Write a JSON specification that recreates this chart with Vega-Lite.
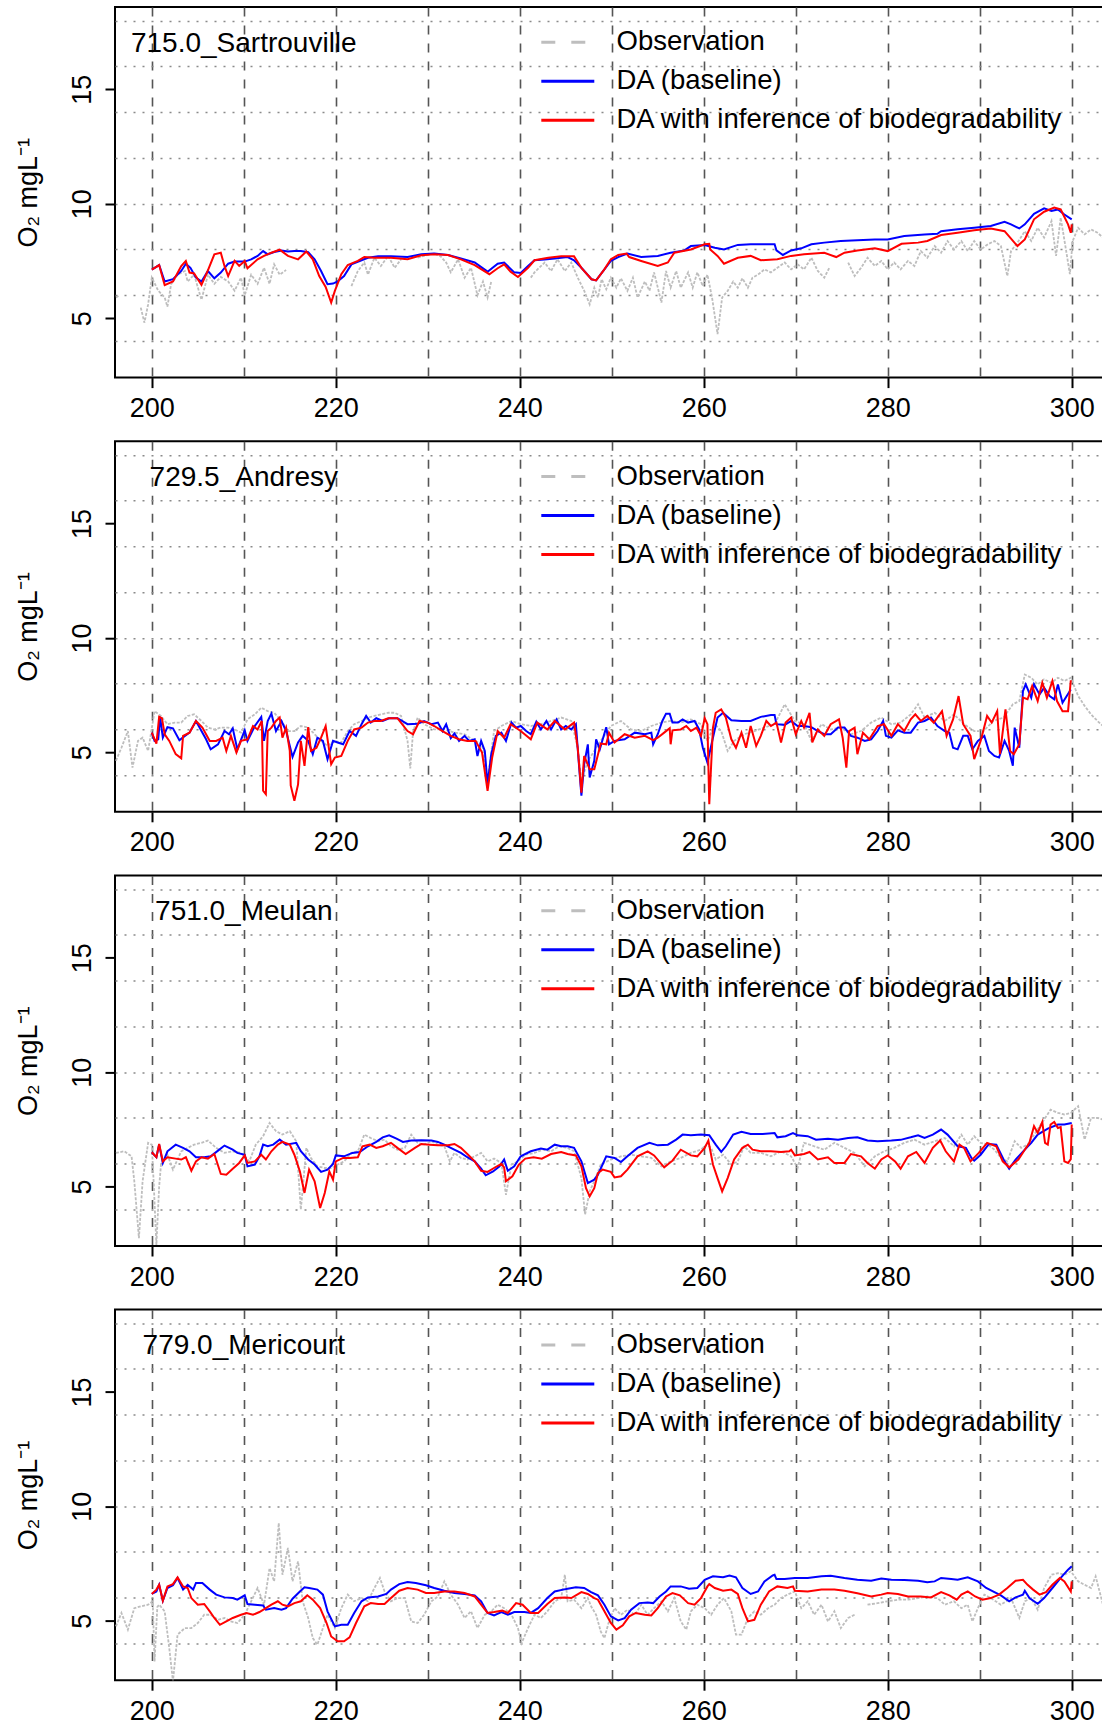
{
"$schema": "https://vega.github.io/schema/vega-lite/v6.json",
"padding": {"left": 13, "top": 6, "right": 0, "bottom": 0},
"autosize": {"type": "pad"},
"bounds": "flush",
"spacing": 63.2,
"config": {
 "font": "Liberation Sans",
 "view": {"stroke": "#000000", "strokeWidth": 2},
 "axis": {"labelFont": "Liberation Sans", "labelFontSize": 27, "labelColor": "#000000", "titleFont": "Liberation Sans", "titleFontSize": 27, "titleFontWeight": "normal", "titleColor": "#000000", "tickColor": "#000000", "tickWidth": 2, "tickSize": 10, "domain": false},
 "legend": {"orient": "none", "legendX": 424.8, "legendY": 16.1, "direction": "vertical", "title": null, "symbolType": "stroke", "symbolSize": 2809, "symbolStrokeWidth": 3, "labelFontSize": 27.5, "labelFont": "Liberation Sans", "labelColor": "#000000", "labelOffset": 20.7, "rowPadding": 0, "clipHeight": 38.5, "padding": 0, "labelLimit": 0}
},
"resolve": {"scale": {"color": "independent", "x": "independent", "y": "independent"}, "legend": {"color": "independent"}},
"datasets": {
"p1o": [{"d":196.1,"v":5.9,"g":1},{"d":196.5,"v":6.0,"g":1},
{"d":198.8,"v":5.46,"g":2},{"d":199.2,"v":4.8,"g":2},{"d":199.6,"v":5.6,"g":2},{"d":200,"v":6.77,"g":2},{"d":200.7,"v":6.2,"g":2},{"d":201.4,"v":5.9,"g":2},{"d":201.7,"v":5.5,"g":2},{"d":202.1,"v":6.48,"g":2},{"d":202.8,"v":6.9,"g":2},{"d":203.6,"v":7.06,"g":2},{"d":203.9,"v":6.6,"g":2},{"d":204.6,"v":6.9,"g":2},{"d":205.4,"v":5.8,"g":2},{"d":206.1,"v":6.9,"g":2},{"d":206.8,"v":6.5,"g":2},{"d":207.5,"v":6.8,"g":2},{"d":208.3,"v":6.6,"g":2},{"d":209,"v":6.2,"g":2},{"d":209.7,"v":6.77,"g":2},{"d":210.1,"v":6.0,"g":2},{"d":210.8,"v":6.9,"g":2},{"d":211.5,"v":6.5,"g":2},{"d":212.2,"v":7.2,"g":2},{"d":212.8,"v":6.5,"g":2},{"d":213.3,"v":7.35,"g":2},{"d":213.9,"v":6.9,"g":2},{"d":214.6,"v":7.1,"g":2},
{"d":221.7,"v":6.4,"g":3},{"d":222.4,"v":7.06,"g":3},{"d":223.1,"v":7.43,"g":3},{"d":223.5,"v":6.9,"g":3},{"d":224.2,"v":7.64,"g":3},{"d":224.9,"v":7.28,"g":3},{"d":225.7,"v":7.72,"g":3},{"d":226.4,"v":7.2,"g":3},{"d":227.1,"v":7.57,"g":3},
{"d":228.9,"v":7.64,"g":4},{"d":229.6,"v":7.72,"g":4},{"d":230.7,"v":7.82,"g":4},{"d":231.4,"v":7.7,"g":4},{"d":232,"v":7.43,"g":4},{"d":232.5,"v":7.0,"g":4},{"d":233.3,"v":7.57,"g":4},{"d":234,"v":6.77,"g":4},{"d":234.7,"v":7.2,"g":4},{"d":235.4,"v":6.0,"g":4},{"d":236,"v":6.6,"g":4},{"d":236.5,"v":5.9,"g":4},{"d":236.9,"v":6.6,"g":4},
{"d":241.2,"v":6.77,"g":5},{"d":241.6,"v":7.0,"g":5},{"d":242.7,"v":7.43,"g":5},{"d":243.4,"v":7.06,"g":5},{"d":244.1,"v":7.57,"g":5},{"d":244.9,"v":7.06,"g":5},{"d":245.6,"v":7.43,"g":5},{"d":246.3,"v":6.77,"g":5},{"d":247,"v":6.2,"g":5},{"d":247.6,"v":5.6,"g":5},{"d":248.1,"v":6.33,"g":5},{"d":248.5,"v":5.9,"g":5},{"d":248.9,"v":6.7,"g":5},{"d":249.4,"v":6.26,"g":5},{"d":249.9,"v":6.77,"g":5},{"d":250.5,"v":6.33,"g":5},{"d":251,"v":6.74,"g":5},{"d":251.7,"v":6.19,"g":5},{"d":252.3,"v":6.77,"g":5},{"d":252.8,"v":5.9,"g":5},{"d":253.6,"v":6.6,"g":5},{"d":254.1,"v":6.2,"g":5},{"d":254.6,"v":7.0,"g":5},{"d":255.4,"v":5.68,"g":5},{"d":255.9,"v":7.06,"g":5},{"d":256.4,"v":6.33,"g":5},{"d":257,"v":7.06,"g":5},{"d":257.5,"v":6.33,"g":5},{"d":258.3,"v":7.0,"g":5},{"d":258.8,"v":6.33,"g":5},{"d":259.3,"v":7.0,"g":5},{"d":259.9,"v":6.4,"g":5},{"d":260.4,"v":6.9,"g":5},{"d":260.9,"v":5.9,"g":5},{"d":261.5,"v":4.3,"g":5},{"d":262,"v":5.9,"g":5},{"d":262.6,"v":6.19,"g":5},{"d":263.2,"v":6.6,"g":5},{"d":263.7,"v":6.33,"g":5},{"d":264.2,"v":6.74,"g":5},{"d":264.8,"v":6.33,"g":5},{"d":265.3,"v":6.77,"g":5},{"d":265.9,"v":6.9,"g":5},{"d":266.6,"v":7.13,"g":5},{"d":267.3,"v":7.0,"g":5},{"d":268,"v":7.2,"g":5},{"d":268.8,"v":7.43,"g":5},{"d":269.5,"v":7.13,"g":5},{"d":270.2,"v":7.35,"g":5},{"d":270.9,"v":7.13,"g":5},{"d":271.7,"v":7.64,"g":5},{"d":272.4,"v":7.06,"g":5},{"d":273.1,"v":6.77,"g":5},{"d":273.7,"v":7.24,"g":5},
{"d":275.7,"v":7.43,"g":6},{"d":276.4,"v":6.84,"g":6},{"d":277.1,"v":7.2,"g":6},{"d":277.8,"v":7.64,"g":6},{"d":278.6,"v":7.28,"g":6},{"d":279.3,"v":7.5,"g":6},{"d":280,"v":7.13,"g":6},{"d":280.7,"v":7.43,"g":6},{"d":281.4,"v":7.13,"g":6},{"d":282.2,"v":7.5,"g":6},{"d":282.9,"v":7.28,"g":6},{"d":283.6,"v":7.93,"g":6},{"d":284.3,"v":7.64,"g":6},{"d":285.1,"v":8.15,"g":6},{"d":285.8,"v":7.86,"g":6},{"d":286.5,"v":8.37,"g":6},{"d":287.2,"v":8.0,"g":6},{"d":288,"v":8.37,"g":6},{"d":288.7,"v":7.93,"g":6},{"d":289.4,"v":8.37,"g":6},{"d":290.1,"v":8.0,"g":6},{"d":290.9,"v":8.23,"g":6},{"d":291.6,"v":8.37,"g":6},{"d":292.3,"v":8.15,"g":6},{"d":293,"v":6.84,"g":6},{"d":293.4,"v":7.93,"g":6},{"d":294.1,"v":8.3,"g":6},{"d":294.9,"v":8.8,"g":6},{"d":295.6,"v":8.37,"g":6},{"d":296.3,"v":8.95,"g":6},{"d":297,"v":8.52,"g":6},{"d":297.8,"v":9.24,"g":6},{"d":298.3,"v":7.72,"g":6},{"d":298.8,"v":9.39,"g":6},{"d":299.4,"v":7.93,"g":6},{"d":299.8,"v":6.92,"g":6},{"d":300.1,"v":8.37,"g":6},{"d":300.7,"v":8.95,"g":6},{"d":301.4,"v":8.66,"g":6},{"d":302.1,"v":8.88,"g":6},{"d":302.8,"v":8.73,"g":6},{"d":303.4,"v":8.52,"g":6}],
"p1b": [{"d":200,"v":7.12},{"d":200.8,"v":7.32},{"d":201.4,"v":6.6},{"d":202.3,"v":6.7},{"d":203.2,"v":7.06},{"d":203.7,"v":7.38},{"d":204.2,"v":7.2},{"d":204.8,"v":6.77},{"d":205.4,"v":6.6},{"d":206.1,"v":7.06},{"d":206.8,"v":6.74},{"d":207.5,"v":6.99},{"d":208.3,"v":7.38},{"d":209,"v":7.47},{"d":210.1,"v":7.47},{"d":210.8,"v":7.57},{"d":211.5,"v":7.72},{"d":212.1,"v":7.93},{"d":212.6,"v":7.79},{"d":213.3,"v":7.89},{"d":214.1,"v":7.96},{"d":214.8,"v":7.91},{"d":215.5,"v":7.93},{"d":216.2,"v":7.93},{"d":217,"v":7.88},{"d":217.7,"v":7.57},{"d":218.4,"v":7.06},{"d":219.1,"v":6.48},{"d":219.7,"v":6.51},{"d":220.2,"v":6.6},{"d":220.9,"v":6.84},{"d":221.7,"v":7.35},{"d":222.8,"v":7.53},{"d":223.5,"v":7.64},{"d":224.6,"v":7.7},{"d":226,"v":7.7},{"d":227.8,"v":7.67},{"d":229.3,"v":7.79},{"d":230.7,"v":7.83},{"d":232.2,"v":7.76},{"d":233.6,"v":7.61},{"d":235.1,"v":7.43},{"d":236.5,"v":7.03},{"d":237.6,"v":7.38},{"d":238.3,"v":7.43},{"d":239.4,"v":7.0},{"d":240.1,"v":6.97},{"d":240.9,"v":7.28},{"d":241.6,"v":7.53},{"d":242.7,"v":7.56},{"d":243.8,"v":7.61},{"d":245.2,"v":7.67},{"d":245.9,"v":7.53},{"d":246.7,"v":7.2},{"d":247.8,"v":6.7},{"d":248.3,"v":6.65},{"d":249.2,"v":7.13},{"d":249.9,"v":7.5},{"d":250.7,"v":7.67},{"d":251.7,"v":7.82},{"d":253.2,"v":7.67},{"d":255,"v":7.72},{"d":256.4,"v":7.86},{"d":257.9,"v":7.96},{"d":258.6,"v":8.15},{"d":260.1,"v":8.2},{"d":261.2,"v":8.08},{"d":262.2,"v":8.0},{"d":263.7,"v":8.2},{"d":265.1,"v":8.23},{"d":266.6,"v":8.23},{"d":267.7,"v":8.23},{"d":267.9,"v":7.96},{"d":268.6,"v":7.76},{"d":269.5,"v":7.96},{"d":270.6,"v":8.05},{"d":271.7,"v":8.23},{"d":273.1,"v":8.3},{"d":274.9,"v":8.37},{"d":276.7,"v":8.4},{"d":278.6,"v":8.44},{"d":280,"v":8.44},{"d":281.8,"v":8.59},{"d":284,"v":8.66},{"d":285.4,"v":8.69},{"d":285.8,"v":8.8},{"d":287.6,"v":8.88},{"d":289.4,"v":8.95},{"d":291.2,"v":9.03},{"d":292.7,"v":9.21},{"d":293.4,"v":9.1},{"d":294.3,"v":8.92},{"d":294.9,"v":9.1},{"d":295.9,"v":9.56},{"d":297,"v":9.8},{"d":297.8,"v":9.68},{"d":298.5,"v":9.75},{"d":299.2,"v":9.53},{"d":300,"v":9.32}],
"p1r": [{"d":200,"v":7.12},{"d":200.8,"v":7.32},{"d":201.4,"v":6.44},{"d":202.3,"v":6.6},{"d":203.2,"v":7.28},{"d":203.7,"v":7.5},{"d":204.1,"v":6.99},{"d":204.6,"v":6.95},{"d":205.4,"v":6.45},{"d":206.1,"v":7.09},{"d":206.8,"v":7.79},{"d":207.5,"v":7.86},{"d":207.9,"v":7.28},{"d":208.3,"v":6.84},{"d":209,"v":7.5},{"d":209.5,"v":7.28},{"d":210.1,"v":7.5},{"d":210.4,"v":7.18},{"d":211.5,"v":7.57},{"d":212.2,"v":7.72},{"d":213,"v":7.86},{"d":213.9,"v":7.99},{"d":214.8,"v":7.72},{"d":215.9,"v":7.57},{"d":216.8,"v":7.91},{"d":217.5,"v":7.57},{"d":218.2,"v":6.84},{"d":218.9,"v":6.36},{"d":219.5,"v":5.68},{"d":219.9,"v":6.19},{"d":220.6,"v":6.92},{"d":221.3,"v":7.32},{"d":222.4,"v":7.5},{"d":223.1,"v":7.67},{"d":224.2,"v":7.64},{"d":226,"v":7.64},{"d":227.8,"v":7.57},{"d":229.3,"v":7.75},{"d":230.7,"v":7.79},{"d":232.2,"v":7.76},{"d":233.6,"v":7.57},{"d":235.1,"v":7.32},{"d":236.7,"v":6.92},{"d":237.6,"v":7.18},{"d":238.3,"v":7.35},{"d":239,"v":7.03},{"d":239.8,"v":6.8},{"d":240.9,"v":7.2},{"d":241.6,"v":7.53},{"d":243.1,"v":7.64},{"d":244.5,"v":7.7},{"d":245.9,"v":7.7},{"d":246.7,"v":7.2},{"d":247.8,"v":6.7},{"d":248.3,"v":6.65},{"d":249.2,"v":7.13},{"d":249.9,"v":7.57},{"d":250.7,"v":7.76},{"d":251.6,"v":7.82},{"d":251.9,"v":7.67},{"d":253.2,"v":7.5},{"d":255,"v":7.28},{"d":256.1,"v":7.43},{"d":256.8,"v":7.86},{"d":258.6,"v":8.0},{"d":260.1,"v":8.23},{"d":260.6,"v":8.25},{"d":260.7,"v":8.0},{"d":261.5,"v":7.72},{"d":262.2,"v":7.38},{"d":263.7,"v":7.64},{"d":265.1,"v":7.72},{"d":266.2,"v":7.53},{"d":268,"v":7.57},{"d":269.5,"v":7.72},{"d":270.9,"v":7.79},{"d":273.1,"v":7.86},{"d":274.4,"v":7.67},{"d":275.3,"v":7.86},{"d":276.7,"v":7.96},{"d":278.6,"v":8.05},{"d":280,"v":7.93},{"d":281.5,"v":8.25},{"d":283.3,"v":8.3},{"d":284.3,"v":8.37},{"d":285.8,"v":8.63},{"d":287.6,"v":8.73},{"d":289.4,"v":8.84},{"d":291.2,"v":8.92},{"d":292.7,"v":8.8},{"d":294.1,"v":8.15},{"d":294.9,"v":8.44},{"d":295.9,"v":9.32},{"d":297,"v":9.65},{"d":298.1,"v":9.83},{"d":298.8,"v":9.75},{"d":299.6,"v":9.1},{"d":299.9,"v":8.73},{"d":300,"v":9.1}],
"p2o": [{"d":196.1,"v":4.63},{"d":196.7,"v":5.2},{"d":197.4,"v":5.93},{"d":197.9,"v":4.33},{"d":198.5,"v":5.5},{"d":199,"v":5.64},{"d":199.6,"v":5.06},{"d":200.3,"v":6.8},{"d":201,"v":6.59},{"d":201.7,"v":6.23},{"d":202.5,"v":6.3},{"d":203.2,"v":6.3},{"d":203.9,"v":6.59},{"d":204.6,"v":6.66},{"d":205.4,"v":6.37},{"d":206.1,"v":6.08},{"d":206.8,"v":6.0},{"d":207.5,"v":6.08},{"d":208.3,"v":6.08},{"d":209,"v":6.0},{"d":209.7,"v":5.86},{"d":210.4,"v":6.44},{"d":211.2,"v":6.66},{"d":211.9,"v":6.95},{"d":212.6,"v":6.8},{"d":213.3,"v":6.73},{"d":214.1,"v":6.37},{"d":214.8,"v":5.93},{"d":215.5,"v":5.93},{"d":216.2,"v":6.15},{"d":217,"v":6.08},{"d":217.7,"v":5.79},{"d":218.4,"v":5.5},{"d":219.1,"v":5.28},{"d":219.9,"v":5.5},{"d":220.6,"v":5.43},{"d":221.3,"v":5.93},{"d":222,"v":6.23},{"d":222.8,"v":6.37},{"d":223.5,"v":6.52},{"d":224.2,"v":6.59},{"d":224.9,"v":6.66},{"d":225.7,"v":6.73},{"d":226.4,"v":6.73},{"d":227.1,"v":6.59},{"d":227.8,"v":5.5},{"d":228.1,"v":4.3},{"d":228.4,"v":5.9},{"d":228.9,"v":6.52},{"d":229.6,"v":6.23},{"d":230.7,"v":6.0},{"d":231.8,"v":6.0},{"d":232.9,"v":5.86},{"d":234,"v":5.79},{"d":235.1,"v":5.5},{"d":235.9,"v":5.35},{"d":236.5,"v":3.75},{"d":237.2,"v":5.93},{"d":238,"v":6.15},{"d":239.1,"v":6.37},{"d":240.1,"v":6.23},{"d":241.2,"v":6.15},{"d":242.3,"v":6.23},{"d":243.4,"v":6.37},{"d":244.5,"v":6.52},{"d":245.6,"v":6.37},{"d":246.3,"v":5.2},{"d":246.7,"v":3.75},{"d":247.4,"v":4.63},{"d":248.1,"v":5.06},{"d":248.8,"v":5.5},{"d":249.9,"v":6.15},{"d":251,"v":6.37},{"d":252.1,"v":6.0},{"d":253.2,"v":5.93},{"d":254.3,"v":6.15},{"d":255.4,"v":6.3},{"d":256.4,"v":6.37},{"d":257.5,"v":6.3},{"d":258.6,"v":6.44},{"d":259.7,"v":6.23},{"d":260.4,"v":5.5},{"d":261.2,"v":6.23},{"d":261.9,"v":5.93},{"d":262.6,"v":5.06},{"d":263.3,"v":5.5},{"d":264.4,"v":5.79},{"d":265.5,"v":5.93},{"d":266.6,"v":6.08},{"d":267.7,"v":6.23},{"d":268.8,"v":7.1},{"d":269.9,"v":6.37},{"d":270.9,"v":6.23},{"d":271.7,"v":5.5},{"d":272.8,"v":6.23},{"d":273.8,"v":6.0},{"d":274.9,"v":6.08},{"d":276,"v":5.79},{"d":277.1,"v":5.93},{"d":278.2,"v":6.3},{"d":279.3,"v":6.52},{"d":280.4,"v":6.23},{"d":281.4,"v":6.3},{"d":282.5,"v":6.66},{"d":283.3,"v":7.1},{"d":284,"v":6.52},{"d":285.1,"v":6.73},{"d":286.2,"v":6.37},{"d":287.2,"v":6.66},{"d":288.3,"v":6.23},{"d":289.4,"v":5.93},{"d":290.4,"v":5.93},{"d":291.5,"v":6.37},{"d":292.6,"v":6.52},{"d":293.6,"v":7.1},{"d":294.3,"v":7.24},{"d":294.9,"v":8.4},{"d":295.6,"v":8.26},{"d":296.3,"v":7.97},{"d":297,"v":8.19},{"d":297.8,"v":8.04},{"d":298.5,"v":8.26},{"d":299.2,"v":8.12},{"d":299.9,"v":8.26},{"d":300.7,"v":7.46},{"d":301.4,"v":7.03},{"d":302.1,"v":6.66},{"d":302.8,"v":6.37},{"d":303.4,"v":6.15}],
"p2b": [{"d":200,"v":5.86},{"d":200.3,"v":5.5},{"d":200.7,"v":5.57},{"d":200.9,"v":6.55},{"d":201.2,"v":5.64},{"d":201.7,"v":6.1},{"d":202.3,"v":6.05},{"d":203,"v":5.53},{"d":203.6,"v":5.72},{"d":204.1,"v":5.86},{"d":204.8,"v":6.37},{"d":205.4,"v":5.93},{"d":205.9,"v":5.57},{"d":206.4,"v":5.13},{"d":207.2,"v":5.35},{"d":207.9,"v":5.93},{"d":208.4,"v":5.79},{"d":208.8,"v":6.05},{"d":209.3,"v":5.13},{"d":210.1,"v":5.96},{"d":210.4,"v":5.5},{"d":211.2,"v":6.15},{"d":211.9,"v":6.55},{"d":212.2,"v":5.5},{"d":212.6,"v":6.37},{"d":213,"v":6.69},{"d":213.5,"v":5.93},{"d":214.1,"v":6.37},{"d":214.6,"v":5.93},{"d":215.3,"v":4.8},{"d":215.9,"v":5.43},{"d":216.4,"v":5.72},{"d":217,"v":5.5},{"d":217.5,"v":4.92},{"d":218,"v":5.64},{"d":218.6,"v":5.5},{"d":219.1,"v":4.7},{"d":219.7,"v":5.5},{"d":220.2,"v":5.43},{"d":220.8,"v":5.35},{"d":221.5,"v":5.93},{"d":222.2,"v":5.72},{"d":222.8,"v":6.23},{"d":223.3,"v":6.59},{"d":223.8,"v":6.3},{"d":224.4,"v":6.49},{"d":225.1,"v":6.37},{"d":225.8,"v":6.49},{"d":226.7,"v":6.49},{"d":227.8,"v":6.23},{"d":228.9,"v":6.25},{"d":229.6,"v":6.37},{"d":230.4,"v":6.23},{"d":231.1,"v":6.3},{"d":231.6,"v":5.93},{"d":232,"v":6.23},{"d":232.5,"v":5.62},{"d":232.9,"v":5.82},{"d":233.4,"v":5.5},{"d":234,"v":5.72},{"d":234.5,"v":5.5},{"d":235.1,"v":5.57},{"d":235.4,"v":4.84},{"d":235.8,"v":5.5},{"d":236.2,"v":5.06},{"d":236.5,"v":3.6},{"d":236.9,"v":4.92},{"d":237.4,"v":5.72},{"d":238,"v":5.86},{"d":238.5,"v":5.5},{"d":239.1,"v":6.3},{"d":239.6,"v":6.08},{"d":240.1,"v":6.15},{"d":240.7,"v":5.93},{"d":241.2,"v":5.79},{"d":241.8,"v":6.34},{"d":242.3,"v":6.0},{"d":242.9,"v":6.37},{"d":243.4,"v":6.0},{"d":244,"v":6.44},{"d":244.5,"v":6.0},{"d":245,"v":6.15},{"d":245.6,"v":6.0},{"d":246.1,"v":6.23},{"d":246.4,"v":4.63},{"d":246.7,"v":3.1},{"d":247,"v":4.48},{"d":247.4,"v":5.35},{"d":247.6,"v":3.9},{"d":248.1,"v":4.63},{"d":248.3,"v":5.57},{"d":248.7,"v":5.13},{"d":249.4,"v":6.1},{"d":249.7,"v":5.35},{"d":250.3,"v":5.5},{"d":251.4,"v":5.57},{"d":252.5,"v":5.86},{"d":253.6,"v":5.79},{"d":254.3,"v":5.86},{"d":254.5,"v":5.35},{"d":255,"v":5.79},{"d":255.5,"v":6.37},{"d":255.9,"v":6.69},{"d":256.3,"v":6.69},{"d":256.6,"v":6.3},{"d":257.2,"v":6.3},{"d":257.7,"v":6.44},{"d":258.3,"v":6.3},{"d":259,"v":6.37},{"d":259.5,"v":6.0},{"d":259.9,"v":5.2},{"d":260.4,"v":4.55},{"d":261,"v":5.64},{"d":261.5,"v":6.52},{"d":262.1,"v":6.73},{"d":263,"v":6.4},{"d":264.1,"v":6.37},{"d":265.1,"v":6.37},{"d":266.2,"v":6.55},{"d":267.3,"v":6.63},{"d":267.7,"v":6.63},{"d":267.9,"v":6.23},{"d":268.8,"v":6.2},{"d":269.5,"v":6.37},{"d":270.2,"v":6.15},{"d":270.9,"v":6.15},{"d":271.7,"v":6.1},{"d":272.4,"v":5.93},{"d":273.1,"v":5.79},{"d":273.8,"v":5.79},{"d":274.6,"v":6.08},{"d":275.3,"v":6.08},{"d":276,"v":5.72},{"d":276.7,"v":5.64},{"d":277.5,"v":5.5},{"d":278.2,"v":5.57},{"d":278.9,"v":5.93},{"d":279.5,"v":6.37},{"d":279.8,"v":5.72},{"d":280.4,"v":5.64},{"d":281.1,"v":5.96},{"d":281.8,"v":5.86},{"d":282.5,"v":5.86},{"d":283.3,"v":6.3},{"d":284,"v":6.37},{"d":284.7,"v":6.52},{"d":285.4,"v":6.15},{"d":286.2,"v":5.93},{"d":286.7,"v":5.86},{"d":287.1,"v":5.2},{"d":287.6,"v":5.13},{"d":288.2,"v":5.72},{"d":288.7,"v":5.72},{"d":289.2,"v":5.13},{"d":289.8,"v":5.5},{"d":290.5,"v":5.72},{"d":291,"v":5.06},{"d":291.6,"v":4.84},{"d":292.1,"v":4.77},{"d":292.7,"v":5.5},{"d":293.2,"v":5.06},{"d":293.6,"v":4.41},{"d":293.8,"v":6.08},{"d":294.3,"v":5.2},{"d":294.7,"v":7.68},{"d":295,"v":7.97},{"d":295.6,"v":7.39},{"d":295.9,"v":7.97},{"d":296.5,"v":7.53},{"d":297,"v":7.82},{"d":297.6,"v":7.46},{"d":298.1,"v":7.32},{"d":298.5,"v":7.97},{"d":299,"v":7.17},{"d":299.9,"v":7.75}],
"p2r": [{"d":200,"v":5.86},{"d":200.5,"v":5.38},{"d":200.8,"v":6.55},{"d":201.1,"v":6.49},{"d":201.4,"v":5.79},{"d":201.9,"v":5.5},{"d":202.6,"v":4.92},{"d":203.2,"v":4.74},{"d":203.4,"v":5.72},{"d":204.1,"v":5.86},{"d":204.8,"v":6.37},{"d":205.5,"v":6.08},{"d":206.3,"v":5.5},{"d":207,"v":5.5},{"d":207.7,"v":5.64},{"d":208.1,"v":5.06},{"d":208.6,"v":5.72},{"d":209.2,"v":4.99},{"d":209.7,"v":5.5},{"d":210.4,"v":5.57},{"d":211,"v":6.15},{"d":211.5,"v":6.0},{"d":211.96,"v":6.37},{"d":212.1,"v":3.32},{"d":212.4,"v":3.17},{"d":212.6,"v":5.93},{"d":213,"v":6.08},{"d":213.5,"v":6.37},{"d":213.9,"v":6.52},{"d":214.2,"v":5.64},{"d":214.6,"v":6.08},{"d":215,"v":5.06},{"d":215.1,"v":3.55},{"d":215.5,"v":2.88},{"d":215.9,"v":3.6},{"d":216.2,"v":5.5},{"d":216.6,"v":4.41},{"d":217,"v":6.1},{"d":217.3,"v":5.06},{"d":217.9,"v":5.2},{"d":218.4,"v":5.64},{"d":218.9,"v":6.15},{"d":219.5,"v":4.48},{"d":219.9,"v":4.77},{"d":220.6,"v":4.84},{"d":221.3,"v":5.5},{"d":222,"v":6.0},{"d":222.8,"v":6.08},{"d":223.5,"v":6.3},{"d":224.2,"v":6.37},{"d":224.9,"v":6.37},{"d":225.7,"v":6.49},{"d":226.7,"v":6.49},{"d":227.8,"v":5.93},{"d":228.4,"v":5.79},{"d":229.1,"v":6.37},{"d":230,"v":6.3},{"d":230.7,"v":6.15},{"d":231.6,"v":5.93},{"d":232.5,"v":5.72},{"d":233.4,"v":5.57},{"d":234.3,"v":5.5},{"d":235.2,"v":5.5},{"d":235.9,"v":4.99},{"d":236.5,"v":3.32},{"d":237,"v":4.77},{"d":237.6,"v":5.93},{"d":238.3,"v":5.64},{"d":239,"v":6.23},{"d":240.1,"v":5.93},{"d":241.2,"v":5.57},{"d":241.9,"v":6.3},{"d":243,"v":6.0},{"d":243.8,"v":6.37},{"d":244.9,"v":6.0},{"d":245.9,"v":6.3},{"d":246.3,"v":5.2},{"d":246.7,"v":3.24},{"d":247,"v":4.84},{"d":247.6,"v":4.26},{"d":248.1,"v":4.26},{"d":248.8,"v":5.38},{"d":249.4,"v":5.35},{"d":249.7,"v":5.86},{"d":250.3,"v":5.43},{"d":251.4,"v":5.79},{"d":252.5,"v":5.64},{"d":253.6,"v":5.72},{"d":254.5,"v":5.53},{"d":255,"v":5.64},{"d":255.7,"v":5.86},{"d":256.3,"v":6.05},{"d":256.4,"v":5.35},{"d":256.6,"v":5.96},{"d":257.5,"v":6.0},{"d":258.1,"v":6.15},{"d":258.6,"v":5.93},{"d":259.2,"v":6.08},{"d":259.7,"v":5.72},{"d":260.1,"v":6.49},{"d":260.4,"v":6.23},{"d":260.6,"v":2.73},{"d":261,"v":6.08},{"d":261.3,"v":6.73},{"d":261.9,"v":6.88},{"d":262.4,"v":6.52},{"d":263,"v":5.57},{"d":263.5,"v":5.2},{"d":264.1,"v":5.86},{"d":264.6,"v":5.2},{"d":265.1,"v":6.15},{"d":265.7,"v":5.28},{"d":266.2,"v":5.72},{"d":266.8,"v":6.37},{"d":267.3,"v":6.15},{"d":267.9,"v":6.3},{"d":268.4,"v":5.43},{"d":268.9,"v":6.3},{"d":269.5,"v":6.52},{"d":270,"v":5.79},{"d":270.6,"v":6.37},{"d":270.9,"v":6.08},{"d":271.5,"v":6.73},{"d":271.8,"v":5.43},{"d":272.4,"v":6.0},{"d":273.1,"v":5.72},{"d":273.8,"v":6.23},{"d":274.7,"v":6.44},{"d":275.1,"v":5.64},{"d":275.5,"v":4.33},{"d":275.8,"v":5.93},{"d":276.4,"v":6.08},{"d":276.7,"v":4.92},{"d":277.3,"v":5.86},{"d":278,"v":5.57},{"d":278.9,"v":6.15},{"d":279.6,"v":6.23},{"d":280.4,"v":5.72},{"d":281.1,"v":6.23},{"d":281.8,"v":5.93},{"d":282.5,"v":6.44},{"d":283,"v":6.66},{"d":283.6,"v":6.37},{"d":284.3,"v":6.59},{"d":285,"v":6.3},{"d":285.9,"v":6.8},{"d":286.4,"v":5.72},{"d":287.1,"v":6.44},{"d":287.7,"v":7.46},{"d":288.2,"v":6.23},{"d":289,"v":5.72},{"d":289.4,"v":4.7},{"d":290.1,"v":5.5},{"d":290.8,"v":6.59},{"d":291.3,"v":6.3},{"d":291.9,"v":6.8},{"d":292.2,"v":4.92},{"d":292.8,"v":6.88},{"d":293.3,"v":5.06},{"d":293.7,"v":4.92},{"d":294.3,"v":5.35},{"d":294.7,"v":7.39},{"d":295.2,"v":7.32},{"d":295.7,"v":7.9},{"d":296.3,"v":7.24},{"d":296.8,"v":8.04},{"d":297.3,"v":7.39},{"d":297.9,"v":8.12},{"d":298.4,"v":7.24},{"d":299,"v":6.8},{"d":299.6,"v":6.8},{"d":299.9,"v":8.15}],
"p3o": [{"d":196.1,"v":6.47},{"d":197,"v":6.54},{"d":197.8,"v":6.32},{"d":198.1,"v":5.23},{"d":198.6,"v":2.74},{"d":199,"v":5.23},{"d":199.6,"v":6.91},{"d":200,"v":6.83},{"d":200.2,"v":5.2},{"d":200.5,"v":2.45},{"d":200.8,"v":5.0},{"d":201,"v":5.96},{"d":201.7,"v":6.39},{"d":202.3,"v":5.74},{"d":203.2,"v":6.54},{"d":203.9,"v":6.69},{"d":204.6,"v":6.83},{"d":205.4,"v":6.91},{"d":206.1,"v":7.01},{"d":207,"v":6.69},{"d":207.9,"v":6.47},{"d":208.8,"v":6.54},{"d":209.7,"v":6.47},{"d":210.6,"v":6.1},{"d":211.3,"v":6.83},{"d":212.1,"v":7.2},{"d":212.8,"v":7.78},{"d":213.5,"v":7.42},{"d":214.2,"v":7.27},{"d":215,"v":7.42},{"d":215.7,"v":6.98},{"d":216.2,"v":3.99},{"d":216.8,"v":6.69},{"d":217.3,"v":6.25},{"d":218,"v":5.88},{"d":218.8,"v":5.81},{"d":219.5,"v":5.81},{"d":220.2,"v":5.96},{"d":220.9,"v":6.1},{"d":221.7,"v":6.47},{"d":222.4,"v":6.54},{"d":223.1,"v":7.27},{"d":223.8,"v":7.12},{"d":224.6,"v":6.98},{"d":225.3,"v":7.05},{"d":226,"v":6.76},{"d":226.7,"v":6.61},{"d":227.5,"v":6.69},{"d":228.2,"v":7.27},{"d":228.9,"v":6.91},{"d":229.6,"v":6.83},{"d":230.4,"v":6.98},{"d":231.1,"v":6.83},{"d":231.8,"v":6.76},{"d":232.4,"v":6.1},{"d":232.9,"v":6.47},{"d":233.6,"v":6.25},{"d":234.3,"v":6.18},{"d":235.1,"v":6.32},{"d":235.8,"v":6.47},{"d":236.5,"v":6.1},{"d":237.2,"v":6.22},{"d":238,"v":6.03},{"d":238.5,"v":4.64},{"d":239.1,"v":5.96},{"d":239.8,"v":6.1},{"d":240.6,"v":6.39},{"d":241.6,"v":6.47},{"d":242.5,"v":6.61},{"d":243.4,"v":6.54},{"d":244.3,"v":6.76},{"d":245.2,"v":6.69},{"d":245.9,"v":6.54},{"d":246.7,"v":5.37},{"d":247.1,"v":3.77},{"d":247.6,"v":4.79},{"d":248.1,"v":5.23},{"d":248.8,"v":5.96},{"d":249.9,"v":6.18},{"d":251,"v":6.32},{"d":252.1,"v":6.39},{"d":253.2,"v":6.32},{"d":254.3,"v":6.25},{"d":255.4,"v":5.88},{"d":256.4,"v":6.1},{"d":257.5,"v":6.25},{"d":258.6,"v":6.47},{"d":259.7,"v":6.61},{"d":260.3,"v":6.83},{"d":260.8,"v":6.69},{"d":261.3,"v":6.18},{"d":262.1,"v":6.39},{"d":263,"v":5.96},{"d":263.7,"v":6.1},{"d":264.4,"v":6.76},{"d":265.1,"v":6.47},{"d":266.2,"v":6.47},{"d":267.3,"v":6.32},{"d":268.4,"v":6.54},{"d":269.5,"v":6.32},{"d":270.2,"v":5.81},{"d":270.9,"v":6.91},{"d":272,"v":6.76},{"d":273.1,"v":6.61},{"d":274.2,"v":6.91},{"d":275.3,"v":6.69},{"d":276.4,"v":6.47},{"d":277.5,"v":5.88},{"d":278.6,"v":6.32},{"d":279.6,"v":6.54},{"d":280.7,"v":6.69},{"d":281.8,"v":6.91},{"d":282.9,"v":7.05},{"d":284,"v":6.83},{"d":285.1,"v":6.98},{"d":286.2,"v":7.12},{"d":287.2,"v":6.76},{"d":288,"v":7.27},{"d":288.7,"v":6.83},{"d":289.4,"v":7.2},{"d":290.1,"v":6.91},{"d":290.9,"v":6.83},{"d":291.6,"v":6.61},{"d":292.3,"v":6.25},{"d":293,"v":6.1},{"d":293.8,"v":6.98},{"d":294.5,"v":6.69},{"d":295.2,"v":6.83},{"d":297.7,"v":8.36},{"d":298.5,"v":8.22},{"d":299.2,"v":8.15},{"d":299.9,"v":8.22},{"d":300.7,"v":8.51},{"d":301.4,"v":7.05},{"d":302.1,"v":8.0},{"d":302.8,"v":8.0},{"d":303.4,"v":7.93}],
"p3b": [{"d":200,"v":6.5},{"d":200.5,"v":6.28},{"d":200.8,"v":6.83},{"d":201.2,"v":6.03},{"d":201.7,"v":6.54},{"d":202.6,"v":6.83},{"d":203.4,"v":6.69},{"d":204.1,"v":6.54},{"d":204.8,"v":6.28},{"d":205.7,"v":6.28},{"d":206.4,"v":6.32},{"d":207.2,"v":6.57},{"d":207.9,"v":6.79},{"d":208.8,"v":6.61},{"d":209.3,"v":6.47},{"d":210.1,"v":6.39},{"d":210.4,"v":5.88},{"d":211.2,"v":5.96},{"d":211.7,"v":6.32},{"d":212.1,"v":6.83},{"d":212.6,"v":6.76},{"d":213.2,"v":6.83},{"d":213.9,"v":7.05},{"d":214.6,"v":6.83},{"d":215.7,"v":6.91},{"d":216.2,"v":6.54},{"d":217,"v":6.18},{"d":217.7,"v":5.96},{"d":218.4,"v":5.64},{"d":219.1,"v":5.74},{"d":219.7,"v":5.99},{"d":220,"v":6.36},{"d":220.9,"v":6.32},{"d":221.8,"v":6.47},{"d":222.6,"v":6.51},{"d":223.5,"v":6.76},{"d":224.4,"v":6.95},{"d":225.1,"v":7.15},{"d":225.8,"v":7.24},{"d":226.6,"v":7.09},{"d":227.3,"v":6.95},{"d":228.2,"v":7.01},{"d":229.3,"v":7.02},{"d":230.4,"v":7.01},{"d":231.1,"v":6.95},{"d":231.8,"v":6.83},{"d":232.5,"v":6.69},{"d":233.6,"v":6.47},{"d":234.3,"v":6.28},{"d":235.1,"v":6.1},{"d":235.8,"v":5.78},{"d":236.3,"v":5.49},{"d":237.1,"v":5.66},{"d":237.8,"v":5.88},{"d":238.3,"v":6.18},{"d":238.7,"v":5.69},{"d":239.4,"v":5.88},{"d":240.1,"v":6.32},{"d":241.2,"v":6.54},{"d":242.3,"v":6.66},{"d":243,"v":6.61},{"d":243.8,"v":6.83},{"d":244.5,"v":6.76},{"d":245.2,"v":6.76},{"d":245.9,"v":6.69},{"d":246.7,"v":6.1},{"d":247.4,"v":5.15},{"d":248.1,"v":5.3},{"d":248.5,"v":5.52},{"d":249.4,"v":6.32},{"d":250.3,"v":6.25},{"d":251,"v":6.07},{"d":251.7,"v":6.32},{"d":252.8,"v":6.69},{"d":254.1,"v":6.91},{"d":255,"v":6.8},{"d":256.1,"v":6.83},{"d":257,"v":7.05},{"d":257.7,"v":7.27},{"d":258.6,"v":7.24},{"d":259.7,"v":7.27},{"d":260.6,"v":7.24},{"d":261.3,"v":6.83},{"d":261.9,"v":6.51},{"d":262.4,"v":6.76},{"d":263.2,"v":7.27},{"d":264.1,"v":7.39},{"d":265.1,"v":7.3},{"d":266.4,"v":7.3},{"d":267.7,"v":7.34},{"d":268,"v":7.15},{"d":268.9,"v":7.2},{"d":269.7,"v":7.34},{"d":270.2,"v":7.24},{"d":271.3,"v":7.2},{"d":272.2,"v":7.05},{"d":273.5,"v":7.09},{"d":274.6,"v":7.05},{"d":275.7,"v":7.12},{"d":276.7,"v":7.15},{"d":277.8,"v":7.01},{"d":278.9,"v":6.98},{"d":280.4,"v":7.01},{"d":281.4,"v":7.04},{"d":282.5,"v":7.15},{"d":283.3,"v":7.24},{"d":284,"v":7.12},{"d":284.9,"v":7.27},{"d":285.8,"v":7.49},{"d":286.5,"v":7.27},{"d":287.6,"v":6.76},{"d":288.5,"v":6.69},{"d":289.1,"v":6.25},{"d":289.4,"v":6.13},{"d":290.1,"v":6.39},{"d":291,"v":6.86},{"d":291.8,"v":6.83},{"d":292.7,"v":6.1},{"d":293.2,"v":5.78},{"d":293.9,"v":6.18},{"d":294.9,"v":6.61},{"d":295.6,"v":6.91},{"d":296.3,"v":7.27},{"d":297.4,"v":7.53},{"d":298.5,"v":7.71},{"d":299.2,"v":7.71},{"d":300,"v":7.78}],
"p3r": [{"d":200,"v":6.5},{"d":200.5,"v":6.28},{"d":200.8,"v":6.86},{"d":201.2,"v":6.1},{"d":201.7,"v":6.28},{"d":202.6,"v":6.22},{"d":203.2,"v":6.18},{"d":203.7,"v":6.28},{"d":204.3,"v":5.69},{"d":204.8,"v":6.1},{"d":205.4,"v":6.28},{"d":206.1,"v":6.22},{"d":206.8,"v":6.42},{"d":207.5,"v":5.55},{"d":208.1,"v":5.52},{"d":208.8,"v":5.78},{"d":209.5,"v":6.03},{"d":210.1,"v":6.36},{"d":210.4,"v":6.03},{"d":211.2,"v":6.1},{"d":211.9,"v":6.39},{"d":212.4,"v":6.18},{"d":213,"v":6.54},{"d":213.7,"v":6.83},{"d":214.2,"v":6.95},{"d":215,"v":6.83},{"d":215.5,"v":6.39},{"d":216.1,"v":5.66},{"d":216.6,"v":4.72},{"d":217.1,"v":5.74},{"d":217.7,"v":5.23},{"d":218.3,"v":4.06},{"d":218.8,"v":4.72},{"d":219.3,"v":5.66},{"d":219.7,"v":5.3},{"d":220,"v":6.1},{"d":220.8,"v":6.25},{"d":221.5,"v":6.25},{"d":222.4,"v":6.28},{"d":222.9,"v":6.76},{"d":223.7,"v":6.83},{"d":224.4,"v":6.69},{"d":225.1,"v":6.76},{"d":226,"v":6.91},{"d":226.7,"v":6.69},{"d":227.6,"v":6.42},{"d":228.6,"v":6.69},{"d":229.3,"v":6.86},{"d":230.2,"v":6.83},{"d":231.1,"v":6.8},{"d":232.2,"v":6.8},{"d":232.9,"v":6.86},{"d":233.6,"v":6.69},{"d":234.3,"v":6.42},{"d":235.1,"v":6.1},{"d":235.8,"v":5.69},{"d":236.5,"v":5.64},{"d":237.2,"v":5.81},{"d":238,"v":5.99},{"d":238.3,"v":5.84},{"d":238.5,"v":5.23},{"d":239.2,"v":5.45},{"d":239.9,"v":5.96},{"d":240.6,"v":6.22},{"d":241.5,"v":6.28},{"d":242.4,"v":6.22},{"d":243.4,"v":6.42},{"d":244.5,"v":6.51},{"d":245.2,"v":6.42},{"d":246.1,"v":6.36},{"d":246.7,"v":5.88},{"d":247.2,"v":4.93},{"d":247.6,"v":4.57},{"d":248.1,"v":4.93},{"d":248.5,"v":5.59},{"d":249,"v":5.74},{"d":249.9,"v":5.64},{"d":250.3,"v":5.4},{"d":251,"v":5.45},{"d":251.7,"v":5.74},{"d":252.8,"v":6.32},{"d":253.9,"v":6.54},{"d":254.6,"v":6.36},{"d":255.7,"v":5.84},{"d":256.6,"v":6.13},{"d":257.5,"v":6.61},{"d":258.6,"v":6.36},{"d":259.3,"v":6.32},{"d":260.1,"v":6.69},{"d":260.5,"v":7.01},{"d":261,"v":5.96},{"d":261.5,"v":5.37},{"d":262,"v":4.79},{"d":262.6,"v":5.37},{"d":263.3,"v":6.18},{"d":264.2,"v":6.69},{"d":264.8,"v":6.83},{"d":265.3,"v":6.61},{"d":266.2,"v":6.54},{"d":267.3,"v":6.54},{"d":268.4,"v":6.51},{"d":269.3,"v":6.54},{"d":269.5,"v":6.61},{"d":269.9,"v":6.36},{"d":270.9,"v":6.42},{"d":271.5,"v":6.51},{"d":272.4,"v":6.18},{"d":273.5,"v":6.28},{"d":274.2,"v":6.03},{"d":275.3,"v":6.03},{"d":276,"v":6.42},{"d":277.1,"v":6.32},{"d":277.8,"v":6.03},{"d":278.6,"v":5.78},{"d":279.3,"v":6.18},{"d":280,"v":6.36},{"d":280.8,"v":6.1},{"d":281.4,"v":5.78},{"d":282.2,"v":6.32},{"d":283.1,"v":6.51},{"d":284,"v":6.03},{"d":284.9,"v":6.69},{"d":285.7,"v":7.01},{"d":286.3,"v":6.54},{"d":287.2,"v":6.1},{"d":287.8,"v":6.83},{"d":288.3,"v":6.69},{"d":289,"v":6.1},{"d":289.9,"v":6.47},{"d":290.8,"v":6.91},{"d":291.8,"v":6.76},{"d":292.5,"v":6.1},{"d":293.2,"v":5.84},{"d":294.2,"v":6.18},{"d":294.9,"v":6.61},{"d":295.4,"v":6.91},{"d":295.9,"v":7.64},{"d":296.3,"v":7.34},{"d":296.8,"v":7.82},{"d":297.1,"v":6.91},{"d":297.4,"v":6.83},{"d":297.7,"v":7.71},{"d":298.1,"v":7.82},{"d":298.5,"v":7.56},{"d":298.8,"v":7.6},{"d":299.2,"v":6.1},{"d":299.6,"v":6.03},{"d":299.9,"v":6.2},{"d":300,"v":7.71}],
"p4o": [{"d":196.1,"v":4.75,"g":1},{"d":196.7,"v":5.34,"g":1},{"d":197.4,"v":4.61,"g":1},{"d":198.1,"v":5.55,"g":1},{"d":198.8,"v":5.63,"g":1},{"d":199.6,"v":5.7,"g":1},{"d":200.1,"v":5.85,"g":1},{"d":200.3,"v":3.22,"g":1},{"d":200.6,"v":5.6,"g":1},{"d":200.8,"v":5.7,"g":1},{"d":201.4,"v":5.41,"g":1},{"d":201.9,"v":3.8,"g":1},{"d":202.3,"v":2.35,"g":1},{"d":202.8,"v":4.39,"g":1},{"d":203.6,"v":4.68,"g":1},{"d":204.3,"v":4.68,"g":1},{"d":205,"v":4.9,"g":1},{"d":205.7,"v":5.26,"g":1},{"d":206.4,"v":5.26,"g":1},{"d":207.2,"v":5.04,"g":1},{"d":207.9,"v":5.12,"g":1},{"d":208.6,"v":4.97,"g":1},{"d":209.3,"v":4.9,"g":1},{"d":210.1,"v":5.26,"g":1},{"d":210.8,"v":5.85,"g":1},{"d":211.5,"v":6.43,"g":1},{"d":212.2,"v":5.7,"g":1},{"d":212.8,"v":7.3,"g":1},{"d":213.3,"v":6.72,"g":1},{"d":213.8,"v":9.27,"g":1},{"d":214.2,"v":7.01,"g":1},{"d":214.8,"v":8.18,"g":1},{"d":215.3,"v":6.72,"g":1},{"d":215.9,"v":7.59,"g":1},{"d":216.4,"v":5.85,"g":1},{"d":217,"v":5.12,"g":1},{"d":217.5,"v":4.24,"g":1},{"d":218,"v":3.95,"g":1},{"d":218.6,"v":4.68,"g":1},{"d":219.1,"v":5.26,"g":1},{"d":219.9,"v":4.68,"g":1},{"d":220.6,"v":5.55,"g":1},{"d":221.3,"v":6.14,"g":1},{"d":222,"v":5.85,"g":1},{"d":222.8,"v":5.99,"g":1},{"d":223.5,"v":5.85,"g":1},{"d":224.2,"v":6.43,"g":1},{"d":224.8,"v":6.87,"g":1},{"d":225.3,"v":6.28,"g":1},{"d":226,"v":5.85,"g":1},{"d":226.7,"v":5.99,"g":1},{"d":227.5,"v":5.99,"g":1},{"d":228.2,"v":4.97,"g":1},{"d":228.9,"v":4.9,"g":1},{"d":229.6,"v":5.26,"g":1},{"d":230.4,"v":5.85,"g":1},{"d":231.1,"v":6.06,"g":1},{"d":231.8,"v":6.72,"g":1},{"d":232.5,"v":6.14,"g":1},{"d":233.3,"v":5.7,"g":1},{"d":234,"v":5.12,"g":1},{"d":234.7,"v":5.41,"g":1},{"d":235.4,"v":4.68,"g":1},{"d":236.2,"v":5.26,"g":1},{"d":236.9,"v":5.41,"g":1},{"d":237.6,"v":5.7,"g":1},{"d":238.3,"v":5.55,"g":1},{"d":239.1,"v":5.26,"g":1},{"d":239.8,"v":4.68,"g":1},{"d":240.2,"v":4.02,"g":1},{"d":240.9,"v":4.68,"g":1},{"d":241.6,"v":5.26,"g":1},{"d":242.3,"v":5.12,"g":1},{"d":243,"v":5.41,"g":1},{"d":243.8,"v":5.85,"g":1},{"d":244.5,"v":5.99,"g":1},{"d":244.9,"v":7.01,"g":1},{"d":245.2,"v":5.85,"g":1},{"d":245.9,"v":5.92,"g":1},{"d":246.7,"v":5.55,"g":1},{"d":247.4,"v":5.99,"g":1},{"d":247.75,"v":5.63,"g":1},{"d":248.3,"v":5.26,"g":1},{"d":248.8,"v":4.53,"g":1},{"d":249.2,"v":4.24,"g":1},{"d":249.7,"v":4.97,"g":1},{"d":250.3,"v":5.55,"g":1},{"d":251,"v":5.26,"g":1},{"d":251.7,"v":5.48,"g":1},{"d":252.5,"v":5.26,"g":1},{"d":253.2,"v":5.7,"g":1},{"d":253.9,"v":5.26,"g":1},{"d":254.6,"v":5.55,"g":1},{"d":255.4,"v":5.85,"g":1},{"d":256.1,"v":5.41,"g":1},{"d":256.8,"v":5.99,"g":1},{"d":257.5,"v":4.97,"g":1},{"d":258.1,"v":4.61,"g":1},{"d":258.6,"v":5.41,"g":1},{"d":259.3,"v":5.7,"g":1},{"d":260.1,"v":5.55,"g":1},{"d":260.8,"v":5.26,"g":1},{"d":261.5,"v":5.7,"g":1},{"d":262.2,"v":5.99,"g":1},{"d":263,"v":5.41,"g":1},{"d":263.5,"v":4.39,"g":1},{"d":264.1,"v":4.39,"g":1},{"d":264.8,"v":5.12,"g":1},{"d":265.5,"v":5.41,"g":1},{"d":266.2,"v":5.26,"g":1},{"d":267,"v":5.55,"g":1},{"d":267.7,"v":5.7,"g":1},{"d":268.4,"v":5.99,"g":1},{"d":269.1,"v":6.14,"g":1},{"d":269.9,"v":6.28,"g":1},{"d":270.6,"v":5.55,"g":1},{"d":271.3,"v":5.85,"g":1},{"d":272,"v":5.26,"g":1},{"d":272.8,"v":5.7,"g":1},{"d":273.5,"v":4.97,"g":1},{"d":274.2,"v":5.41,"g":1},{"d":274.9,"v":4.68,"g":1},{"d":275.7,"v":5.12,"g":1},{"d":276.4,"v":5.26,"g":1},
{"d":277.8,"v":5.7,"g":2},{"d":278.9,"v":5.77,"g":2},{"d":280,"v":5.85,"g":2},{"d":281.1,"v":5.92,"g":2},{"d":282.2,"v":5.92,"g":2},{"d":283.3,"v":5.99,"g":2},{"d":284.3,"v":6.06,"g":2},{"d":285.4,"v":5.99,"g":2},{"d":286.2,"v":5.7,"g":2},{"d":287.2,"v":5.85,"g":2},{"d":288,"v":5.55,"g":2},{"d":288.7,"v":5.7,"g":2},{"d":289.2,"v":4.97,"g":2},{"d":289.8,"v":5.55,"g":2},{"d":290.5,"v":6.14,"g":2},{"d":291.2,"v":5.99,"g":2},{"d":292.3,"v":5.7,"g":2},{"d":293.4,"v":5.99,"g":2},{"d":294.3,"v":5.12,"g":2},{"d":294.9,"v":5.85,"g":2},{"d":295.6,"v":5.99,"g":2},{"d":296.3,"v":5.48,"g":2},{"d":297,"v":6.43,"g":2},{"d":297.8,"v":7.01,"g":2},{"d":298.5,"v":7.08,"g":2},{"d":299.2,"v":7.01,"g":2},{"d":299.9,"v":7.16,"g":2},{"d":300.7,"v":6.72,"g":2},{"d":301.4,"v":6.57,"g":2},{"d":302.1,"v":6.43,"g":2},{"d":302.6,"v":6.94,"g":2},{"d":303.4,"v":5.7,"g":2}],
"p4b": [{"d":200,"v":6.17},{"d":200.5,"v":6.28},{"d":200.8,"v":6.57},{"d":201.2,"v":5.87},{"d":201.7,"v":6.43},{"d":202.3,"v":6.55},{"d":202.8,"v":6.87},{"d":203.4,"v":6.36},{"d":203.9,"v":6.57},{"d":204.5,"v":6.36},{"d":204.8,"v":6.65},{"d":205.5,"v":6.65},{"d":206.3,"v":6.36},{"d":207,"v":6.14},{"d":207.9,"v":6.02},{"d":208.8,"v":5.99},{"d":209.3,"v":5.92},{"d":210.1,"v":6.11},{"d":210.4,"v":5.73},{"d":211.2,"v":5.7},{"d":212.1,"v":5.67},{"d":212.4,"v":5.48},{"d":213.3,"v":5.55},{"d":214.1,"v":5.48},{"d":214.6,"v":5.55},{"d":215.3,"v":5.96},{"d":216.1,"v":6.28},{"d":216.6,"v":6.46},{"d":217.1,"v":6.43},{"d":218,"v":6.36},{"d":218.6,"v":6.14},{"d":219.1,"v":5.41},{"d":219.9,"v":4.75},{"d":220.6,"v":4.82},{"d":221.3,"v":4.82},{"d":222,"v":5.34},{"d":222.8,"v":5.85},{"d":223.5,"v":6.02},{"d":224.6,"v":6.06},{"d":225.5,"v":6.17},{"d":226,"v":6.36},{"d":226.9,"v":6.6},{"d":227.8,"v":6.69},{"d":228.7,"v":6.65},{"d":229.8,"v":6.55},{"d":230.7,"v":6.43},{"d":231.8,"v":6.31},{"d":232.9,"v":6.21},{"d":234,"v":6.17},{"d":235.1,"v":6.11},{"d":235.8,"v":5.85},{"d":236.5,"v":5.34},{"d":237.2,"v":5.23},{"d":238,"v":5.38},{"d":238.7,"v":5.26},{"d":239.4,"v":5.38},{"d":240.5,"v":5.38},{"d":241.2,"v":5.34},{"d":242,"v":5.55},{"d":243,"v":5.99},{"d":243.8,"v":6.28},{"d":244.7,"v":6.36},{"d":245.2,"v":6.4},{"d":246.1,"v":6.46},{"d":247,"v":6.43},{"d":247.75,"v":6.25},{"d":248.5,"v":6.11},{"d":249.2,"v":5.7},{"d":249.9,"v":5.19},{"d":250.7,"v":5.01},{"d":251.4,"v":5.11},{"d":252.1,"v":5.48},{"d":253,"v":5.77},{"d":253.9,"v":5.8},{"d":254.5,"v":5.77},{"d":255.2,"v":6.06},{"d":255.9,"v":6.28},{"d":256.4,"v":6.5},{"d":257.5,"v":6.5},{"d":258.4,"v":6.4},{"d":259.3,"v":6.43},{"d":260.1,"v":6.79},{"d":261,"v":6.94},{"d":262.1,"v":6.9},{"d":262.8,"v":6.97},{"d":263.5,"v":6.9},{"d":264.2,"v":6.43},{"d":265.1,"v":6.17},{"d":265.9,"v":6.28},{"d":266.6,"v":6.72},{"d":267.5,"v":6.98},{"d":267.7,"v":7.01},{"d":267.9,"v":6.82},{"d":268.8,"v":6.82},{"d":269.9,"v":6.87},{"d":271.3,"v":6.87},{"d":272.8,"v":6.94},{"d":273.8,"v":6.97},{"d":275.3,"v":6.87},{"d":276.7,"v":6.79},{"d":278.2,"v":6.75},{"d":279.3,"v":6.84},{"d":280.4,"v":6.79},{"d":281.8,"v":6.78},{"d":283.3,"v":6.75},{"d":284.3,"v":6.68},{"d":285.1,"v":6.72},{"d":285.8,"v":6.87},{"d":286.9,"v":6.82},{"d":287.6,"v":6.79},{"d":288.7,"v":6.9},{"d":289.8,"v":6.72},{"d":290.7,"v":6.43},{"d":291.6,"v":6.25},{"d":292.3,"v":6.11},{"d":293.2,"v":5.85},{"d":293.9,"v":6.02},{"d":294.7,"v":6.14},{"d":294.9,"v":6.31},{"d":295.4,"v":5.99},{"d":296.3,"v":5.74},{"d":297,"v":5.99},{"d":297.9,"v":6.43},{"d":298.8,"v":6.87},{"d":299.6,"v":7.23},{"d":300,"v":7.38}],
"p4r": [{"d":200,"v":6.17},{"d":200.5,"v":6.36},{"d":200.8,"v":6.57},{"d":201.2,"v":5.87},{"d":201.7,"v":6.5},{"d":202.3,"v":6.6},{"d":202.8,"v":6.9},{"d":203.4,"v":6.5},{"d":203.9,"v":6.43},{"d":204.3,"v":5.99},{"d":205,"v":5.7},{"d":205.7,"v":5.73},{"d":206.3,"v":5.41},{"d":206.8,"v":5.12},{"d":207.4,"v":4.82},{"d":208.1,"v":4.97},{"d":208.8,"v":5.12},{"d":209.7,"v":5.26},{"d":210.3,"v":5.34},{"d":211,"v":5.26},{"d":211.7,"v":5.38},{"d":212.4,"v":5.55},{"d":213,"v":5.7},{"d":213.7,"v":5.85},{"d":214.2,"v":5.7},{"d":214.8,"v":5.63},{"d":215.5,"v":5.77},{"d":216.2,"v":5.85},{"d":216.9,"v":6.11},{"d":217.5,"v":5.92},{"d":218.3,"v":5.55},{"d":219,"v":4.9},{"d":219.5,"v":4.31},{"d":220.2,"v":4.1},{"d":220.9,"v":4.1},{"d":221.5,"v":4.27},{"d":222.2,"v":4.9},{"d":223.1,"v":5.63},{"d":223.8,"v":5.77},{"d":224.6,"v":5.73},{"d":225.3,"v":5.73},{"d":226,"v":5.99},{"d":226.9,"v":6.31},{"d":227.8,"v":6.43},{"d":228.9,"v":6.36},{"d":229.8,"v":6.21},{"d":230.7,"v":6.21},{"d":231.8,"v":6.28},{"d":232.9,"v":6.28},{"d":234,"v":6.21},{"d":235.1,"v":6.06},{"d":235.8,"v":5.7},{"d":236.5,"v":5.34},{"d":237.2,"v":5.38},{"d":238.1,"v":5.44},{"d":238.7,"v":5.34},{"d":239.6,"v":5.77},{"d":240.3,"v":5.7},{"d":241.2,"v":5.34},{"d":242,"v":5.34},{"d":243,"v":5.73},{"d":243.8,"v":5.99},{"d":244.9,"v":6.02},{"d":245.6,"v":5.99},{"d":246.7,"v":6.25},{"d":247.4,"v":6.17},{"d":248.1,"v":5.99},{"d":248.5,"v":5.92},{"d":249.2,"v":5.41},{"d":249.9,"v":4.9},{"d":250.5,"v":4.61},{"d":251.2,"v":4.8},{"d":251.9,"v":5.19},{"d":252.6,"v":5.34},{"d":253.6,"v":5.26},{"d":254.3,"v":5.23},{"d":255,"v":5.55},{"d":255.9,"v":6.06},{"d":256.6,"v":6.21},{"d":257.4,"v":6.11},{"d":258.3,"v":5.77},{"d":259,"v":5.7},{"d":259.7,"v":5.99},{"d":260.4,"v":6.5},{"d":260.6,"v":6.6},{"d":261.2,"v":6.43},{"d":262.1,"v":6.31},{"d":263,"v":6.36},{"d":263.7,"v":6.17},{"d":264.2,"v":5.55},{"d":264.8,"v":4.97},{"d":265.5,"v":5.04},{"d":266.2,"v":5.7},{"d":267.1,"v":6.28},{"d":268,"v":6.5},{"d":269.1,"v":6.43},{"d":269.7,"v":6.5},{"d":269.9,"v":6.31},{"d":271.3,"v":6.28},{"d":272.8,"v":6.36},{"d":274.2,"v":6.36},{"d":275.3,"v":6.31},{"d":276.7,"v":6.2},{"d":278.2,"v":6.06},{"d":279.3,"v":6.14},{"d":280,"v":6.21},{"d":281.1,"v":6.17},{"d":282.2,"v":6.06},{"d":283.6,"v":6.06},{"d":284.7,"v":6.02},{"d":285.8,"v":6.25},{"d":286.7,"v":6.11},{"d":287.5,"v":5.92},{"d":288,"v":6.14},{"d":288.7,"v":6.28},{"d":289.5,"v":6.06},{"d":290.3,"v":5.92},{"d":291.2,"v":5.99},{"d":292.1,"v":6.14},{"d":293,"v":6.43},{"d":293.9,"v":6.75},{"d":294.7,"v":6.79},{"d":295.2,"v":6.57},{"d":295.8,"v":6.36},{"d":296.5,"v":6.14},{"d":297.2,"v":6.25},{"d":297.9,"v":6.57},{"d":298.7,"v":6.87},{"d":299.2,"v":6.72},{"d":299.9,"v":6.28},{"d":300,"v":6.72}]
},
"vconcat": [
{"width": 988, "height": 370.6,
 "layer": [
  {"data": {"name": "p1o"}, "mark": {"type": "line", "strokeWidth": 1.8, "strokeDash": [3, 1.5], "clip": true},
   "encoding": {
    "x": {"field": "d", "type": "quantitative", "scale": {"domain": [196, 303.4], "nice": false, "zero": false}, "axis": {"title": null, "orient": "bottom", "values": [200,210,220,230,240,250,260,270,280,290,300], "grid": true, "gridColor": "#555555", "gridDash": [9, 9], "gridWidth": 1.6, "tickOpacity": {"condition": {"test": "datum.value % 20 !== 0", "value": 0}, "value": 1}, "labelExpr": "datum.value % 20 === 0 ? datum.label : ''", "labelPadding": 8, "labelFlush": false, "labelOverlap": false}},
    "y": {"field": "v", "type": "quantitative", "scale": {"domain": [2.4, 18.6], "nice": false, "zero": false}, "axis": {"title": "O₂ mgL⁻¹", "orient": "left", "values": [4,5,6,8,10,12,14,15,16,18], "grid": true, "gridColor": "#8a8a8a", "gridDash": [2, 7], "gridWidth": 1.5, "gridOpacity": {"condition": {"test": "datum.value % 2 !== 0", "value": 0}, "value": 1}, "tickOpacity": {"condition": {"test": "datum.value % 5 !== 0", "value": 0}, "value": 1}, "labelExpr": "datum.value % 5 === 0 ? datum.label : ''", "labelAngle": 270, "labelAlign": "center", "labelBaseline": "alphabetic", "labelPadding": 15, "labelOverlap": false, "titleX": -79, "titleY": 185.3, "titleAngle": 270, "titleBaseline": "alphabetic", "titleAlign": "center"}},
    "detail": {"field": "g"},
    "color": {"datum": "Observation", "scale": {"domain": ["Observation", "DA (baseline)", "DA with inference of biodegradability"], "range": ["#bebebe", "#0000ff", "#ff0000"]}, "legend": {"encode": {"symbols": {"update": {"strokeDash": {"signal": "datum.label === 'Observation' ? [14, 16] : [1, 0]"}}}}}}}},
  {"data": {"name": "p1b"}, "mark": {"type": "line", "strokeWidth": 2, "clip": true}, "encoding": {"x": {"field": "d", "type": "quantitative", "scale": {"domain": [196, 303.4], "nice": false, "zero": false}}, "y": {"field": "v", "type": "quantitative", "scale": {"domain": [2.4, 18.6], "nice": false, "zero": false}}, "color": {"datum": "DA (baseline)"}}},
  {"data": {"name": "p1r"}, "mark": {"type": "line", "strokeWidth": 2, "clip": true}, "encoding": {"x": {"field": "d", "type": "quantitative", "scale": {"domain": [196, 303.4], "nice": false, "zero": false}}, "y": {"field": "v", "type": "quantitative", "scale": {"domain": [2.4, 18.6], "nice": false, "zero": false}}, "color": {"datum": "DA with inference of biodegradability"}}},
  {"data": {"values": [{"label": "715.0_Sartrouville"}]}, "mark": {"type": "text", "fontSize": 28, "font": "Liberation Sans", "align": "center", "baseline": "middle", "color": "#000000"}, "encoding": {"x": {"datum": 210, "type": "quantitative", "scale": {"domain": [196, 303.4], "nice": false, "zero": false}}, "y": {"datum": 17, "type": "quantitative", "scale": {"domain": [2.4, 18.6], "nice": false, "zero": false}}, "text": {"field": "label"}}}
 ]},
{"width": 988, "height": 370.6,
 "layer": [
  {"data": {"name": "p2o"}, "mark": {"type": "line", "strokeWidth": 1.8, "strokeDash": [3, 1.5], "clip": true},
   "encoding": {
    "x": {"field": "d", "type": "quantitative", "scale": {"domain": [196, 303.4], "nice": false, "zero": false}, "axis": {"title": null, "orient": "bottom", "values": [200,210,220,230,240,250,260,270,280,290,300], "grid": true, "gridColor": "#555555", "gridDash": [9, 9], "gridWidth": 1.6, "tickOpacity": {"condition": {"test": "datum.value % 20 !== 0", "value": 0}, "value": 1}, "labelExpr": "datum.value % 20 === 0 ? datum.label : ''", "labelPadding": 8, "labelFlush": false, "labelOverlap": false}},
    "y": {"field": "v", "type": "quantitative", "scale": {"domain": [2.4, 18.6], "nice": false, "zero": false}, "axis": {"title": "O₂ mgL⁻¹", "orient": "left", "values": [4,5,6,8,10,12,14,15,16,18], "grid": true, "gridColor": "#8a8a8a", "gridDash": [2, 7], "gridWidth": 1.5, "gridOpacity": {"condition": {"test": "datum.value % 2 !== 0", "value": 0}, "value": 1}, "tickOpacity": {"condition": {"test": "datum.value % 5 !== 0", "value": 0}, "value": 1}, "labelExpr": "datum.value % 5 === 0 ? datum.label : ''", "labelAngle": 270, "labelAlign": "center", "labelBaseline": "alphabetic", "labelPadding": 15, "labelOverlap": false, "titleX": -79, "titleY": 185.3, "titleAngle": 270, "titleBaseline": "alphabetic", "titleAlign": "center"}},
    "color": {"datum": "Observation", "scale": {"domain": ["Observation", "DA (baseline)", "DA with inference of biodegradability"], "range": ["#bebebe", "#0000ff", "#ff0000"]}, "legend": {"encode": {"symbols": {"update": {"strokeDash": {"signal": "datum.label === 'Observation' ? [14, 16] : [1, 0]"}}}}}}}},
  {"data": {"name": "p2b"}, "mark": {"type": "line", "strokeWidth": 2, "clip": true}, "encoding": {"x": {"field": "d", "type": "quantitative", "scale": {"domain": [196, 303.4], "nice": false, "zero": false}}, "y": {"field": "v", "type": "quantitative", "scale": {"domain": [2.4, 18.6], "nice": false, "zero": false}}, "color": {"datum": "DA (baseline)"}}},
  {"data": {"name": "p2r"}, "mark": {"type": "line", "strokeWidth": 2, "clip": true}, "encoding": {"x": {"field": "d", "type": "quantitative", "scale": {"domain": [196, 303.4], "nice": false, "zero": false}}, "y": {"field": "v", "type": "quantitative", "scale": {"domain": [2.4, 18.6], "nice": false, "zero": false}}, "color": {"datum": "DA with inference of biodegradability"}}},
  {"data": {"values": [{"label": "729.5_Andresy"}]}, "mark": {"type": "text", "fontSize": 28, "font": "Liberation Sans", "align": "center", "baseline": "middle", "color": "#000000"}, "encoding": {"x": {"datum": 210, "type": "quantitative", "scale": {"domain": [196, 303.4], "nice": false, "zero": false}}, "y": {"datum": 17, "type": "quantitative", "scale": {"domain": [2.4, 18.6], "nice": false, "zero": false}}, "text": {"field": "label"}}}
 ]},
{"width": 988, "height": 370.6,
 "layer": [
  {"data": {"name": "p3o"}, "mark": {"type": "line", "strokeWidth": 1.8, "strokeDash": [3, 1.5], "clip": true},
   "encoding": {
    "x": {"field": "d", "type": "quantitative", "scale": {"domain": [196, 303.4], "nice": false, "zero": false}, "axis": {"title": null, "orient": "bottom", "values": [200,210,220,230,240,250,260,270,280,290,300], "grid": true, "gridColor": "#555555", "gridDash": [9, 9], "gridWidth": 1.6, "tickOpacity": {"condition": {"test": "datum.value % 20 !== 0", "value": 0}, "value": 1}, "labelExpr": "datum.value % 20 === 0 ? datum.label : ''", "labelPadding": 8, "labelFlush": false, "labelOverlap": false}},
    "y": {"field": "v", "type": "quantitative", "scale": {"domain": [2.4, 18.6], "nice": false, "zero": false}, "axis": {"title": "O₂ mgL⁻¹", "orient": "left", "values": [4,5,6,8,10,12,14,15,16,18], "grid": true, "gridColor": "#8a8a8a", "gridDash": [2, 7], "gridWidth": 1.5, "gridOpacity": {"condition": {"test": "datum.value % 2 !== 0", "value": 0}, "value": 1}, "tickOpacity": {"condition": {"test": "datum.value % 5 !== 0", "value": 0}, "value": 1}, "labelExpr": "datum.value % 5 === 0 ? datum.label : ''", "labelAngle": 270, "labelAlign": "center", "labelBaseline": "alphabetic", "labelPadding": 15, "labelOverlap": false, "titleX": -79, "titleY": 185.3, "titleAngle": 270, "titleBaseline": "alphabetic", "titleAlign": "center"}},
    "color": {"datum": "Observation", "scale": {"domain": ["Observation", "DA (baseline)", "DA with inference of biodegradability"], "range": ["#bebebe", "#0000ff", "#ff0000"]}, "legend": {"encode": {"symbols": {"update": {"strokeDash": {"signal": "datum.label === 'Observation' ? [14, 16] : [1, 0]"}}}}}}}},
  {"data": {"name": "p3b"}, "mark": {"type": "line", "strokeWidth": 2, "clip": true}, "encoding": {"x": {"field": "d", "type": "quantitative", "scale": {"domain": [196, 303.4], "nice": false, "zero": false}}, "y": {"field": "v", "type": "quantitative", "scale": {"domain": [2.4, 18.6], "nice": false, "zero": false}}, "color": {"datum": "DA (baseline)"}}},
  {"data": {"name": "p3r"}, "mark": {"type": "line", "strokeWidth": 2, "clip": true}, "encoding": {"x": {"field": "d", "type": "quantitative", "scale": {"domain": [196, 303.4], "nice": false, "zero": false}}, "y": {"field": "v", "type": "quantitative", "scale": {"domain": [2.4, 18.6], "nice": false, "zero": false}}, "color": {"datum": "DA with inference of biodegradability"}}},
  {"data": {"values": [{"label": "751.0_Meulan"}]}, "mark": {"type": "text", "fontSize": 28, "font": "Liberation Sans", "align": "center", "baseline": "middle", "color": "#000000"}, "encoding": {"x": {"datum": 210, "type": "quantitative", "scale": {"domain": [196, 303.4], "nice": false, "zero": false}}, "y": {"datum": 17, "type": "quantitative", "scale": {"domain": [2.4, 18.6], "nice": false, "zero": false}}, "text": {"field": "label"}}}
 ]},
{"width": 988, "height": 370.6,
 "layer": [
  {"data": {"name": "p4o"}, "mark": {"type": "line", "strokeWidth": 1.8, "strokeDash": [3, 1.5], "clip": true},
   "encoding": {
    "x": {"field": "d", "type": "quantitative", "scale": {"domain": [196, 303.4], "nice": false, "zero": false}, "axis": {"title": null, "orient": "bottom", "values": [200,210,220,230,240,250,260,270,280,290,300], "grid": true, "gridColor": "#555555", "gridDash": [9, 9], "gridWidth": 1.6, "tickOpacity": {"condition": {"test": "datum.value % 20 !== 0", "value": 0}, "value": 1}, "labelExpr": "datum.value % 20 === 0 ? datum.label : ''", "labelPadding": 8, "labelFlush": false, "labelOverlap": false}},
    "y": {"field": "v", "type": "quantitative", "scale": {"domain": [2.4, 18.6], "nice": false, "zero": false}, "axis": {"title": "O₂ mgL⁻¹", "orient": "left", "values": [4,5,6,8,10,12,14,15,16,18], "grid": true, "gridColor": "#8a8a8a", "gridDash": [2, 7], "gridWidth": 1.5, "gridOpacity": {"condition": {"test": "datum.value % 2 !== 0", "value": 0}, "value": 1}, "tickOpacity": {"condition": {"test": "datum.value % 5 !== 0", "value": 0}, "value": 1}, "labelExpr": "datum.value % 5 === 0 ? datum.label : ''", "labelAngle": 270, "labelAlign": "center", "labelBaseline": "alphabetic", "labelPadding": 15, "labelOverlap": false, "titleX": -79, "titleY": 185.3, "titleAngle": 270, "titleBaseline": "alphabetic", "titleAlign": "center"}},
    "detail": {"field": "g"},
    "color": {"datum": "Observation", "scale": {"domain": ["Observation", "DA (baseline)", "DA with inference of biodegradability"], "range": ["#bebebe", "#0000ff", "#ff0000"]}, "legend": {"encode": {"symbols": {"update": {"strokeDash": {"signal": "datum.label === 'Observation' ? [14, 16] : [1, 0]"}}}}}}}},
  {"data": {"name": "p4b"}, "mark": {"type": "line", "strokeWidth": 2, "clip": true}, "encoding": {"x": {"field": "d", "type": "quantitative", "scale": {"domain": [196, 303.4], "nice": false, "zero": false}}, "y": {"field": "v", "type": "quantitative", "scale": {"domain": [2.4, 18.6], "nice": false, "zero": false}}, "color": {"datum": "DA (baseline)"}}},
  {"data": {"name": "p4r"}, "mark": {"type": "line", "strokeWidth": 2, "clip": true}, "encoding": {"x": {"field": "d", "type": "quantitative", "scale": {"domain": [196, 303.4], "nice": false, "zero": false}}, "y": {"field": "v", "type": "quantitative", "scale": {"domain": [2.4, 18.6], "nice": false, "zero": false}}, "color": {"datum": "DA with inference of biodegradability"}}},
  {"data": {"values": [{"label": "779.0_Mericourt"}]}, "mark": {"type": "text", "fontSize": 28, "font": "Liberation Sans", "align": "center", "baseline": "middle", "color": "#000000"}, "encoding": {"x": {"datum": 210, "type": "quantitative", "scale": {"domain": [196, 303.4], "nice": false, "zero": false}}, "y": {"datum": 17, "type": "quantitative", "scale": {"domain": [2.4, 18.6], "nice": false, "zero": false}}, "text": {"field": "label"}}}
 ]}
]
}
